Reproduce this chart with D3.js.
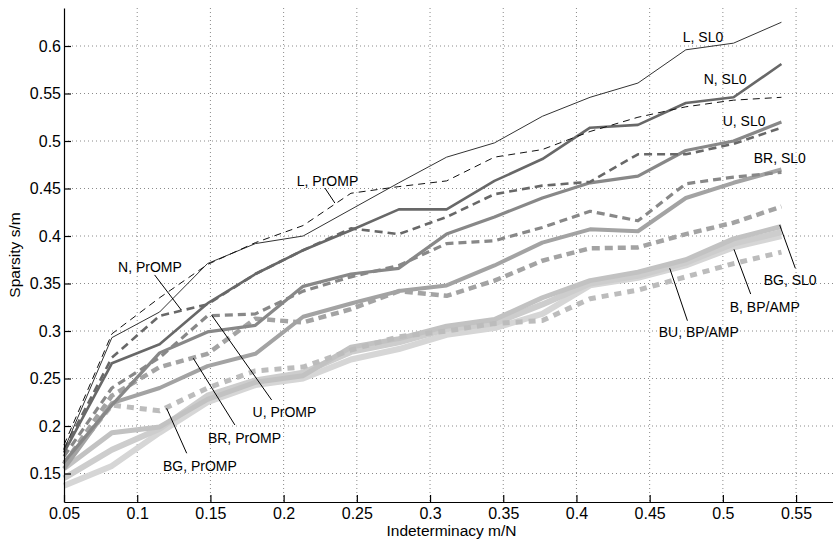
<!DOCTYPE html>
<html>
<head>
<meta charset="utf-8">
<script src="https://cdn.jsdelivr.net/npm/d3@7"></script>
<style>
  body { margin: 0; background: #fff; }
  text { font-family: Arial, "Liberation Sans", Helvetica, sans-serif; fill: #000; }
</style>
</head>
<body>
<svg id="chart" width="833" height="545"></svg>
<script>
// Data: sparsity s/m against indeterminacy m/N, one array per method
var indeterminacy = [0.05, 0.0827, 0.1153, 0.148, 0.1807, 0.2133, 0.246, 0.2787,
                     0.3113, 0.344, 0.3767, 0.4093, 0.442, 0.4747, 0.5073, 0.54];

var xTicks = [0.05, 0.1, 0.15, 0.2, 0.25, 0.3, 0.35, 0.4, 0.45, 0.5, 0.55];
var yTicks = [0.15, 0.2, 0.25, 0.3, 0.35, 0.4, 0.45, 0.5, 0.55, 0.6];

var buBPAMP  = [0.137, 0.158, 0.193, 0.225, 0.243, 0.250, 0.270, 0.281, 0.296, 0.303, 0.318, 0.348, 0.356, 0.369, 0.388, 0.400];
var bBPAMP   = [0.145, 0.175, 0.197, 0.232, 0.248, 0.256, 0.278, 0.288, 0.302, 0.308, 0.328, 0.350, 0.358, 0.372, 0.392, 0.404];
var bgSL0    = [0.155, 0.193, 0.199, 0.228, 0.246, 0.253, 0.283, 0.292, 0.305, 0.312, 0.335, 0.353, 0.362, 0.375, 0.397, 0.410];
var bgPrOMP  = [0.160, 0.222, 0.216, 0.240, 0.258, 0.262, 0.280, 0.294, 0.300, 0.308, 0.311, 0.334, 0.343, 0.357, 0.371, 0.383];
var brSL0    = [0.155, 0.224, 0.240, 0.263, 0.276, 0.315, 0.329, 0.342, 0.348, 0.369, 0.393, 0.407, 0.405, 0.440, 0.456, 0.470];
var brPrOMP  = [0.160, 0.232, 0.262, 0.276, 0.313, 0.309, 0.323, 0.342, 0.337, 0.353, 0.374, 0.387, 0.388, 0.402, 0.414, 0.431];
var uSL0     = [0.162, 0.222, 0.277, 0.299, 0.306, 0.347, 0.360, 0.366, 0.402, 0.420, 0.440, 0.456, 0.463, 0.490, 0.500, 0.520];
var uPrOMP   = [0.168, 0.240, 0.272, 0.316, 0.318, 0.342, 0.357, 0.369, 0.392, 0.395, 0.409, 0.426, 0.416, 0.455, 0.462, 0.467];
var nSL0     = [0.172, 0.266, 0.286, 0.329, 0.360, 0.385, 0.406, 0.428, 0.428, 0.458, 0.481, 0.514, 0.517, 0.540, 0.546, 0.581];
var nPrOMP   = [0.175, 0.272, 0.316, 0.328, 0.360, 0.385, 0.408, 0.402, 0.420, 0.444, 0.453, 0.457, 0.486, 0.486, 0.497, 0.514];
var lSL0     = [0.175, 0.293, 0.320, 0.371, 0.392, 0.400, 0.428, 0.456, 0.483, 0.498, 0.526, 0.546, 0.561, 0.596, 0.603, 0.625];
var lPrOMP   = [0.180, 0.297, 0.335, 0.370, 0.393, 0.411, 0.445, 0.452, 0.458, 0.483, 0.491, 0.510, 0.525, 0.536, 0.543, 0.546];

// line styles, drawn from the lightest/thickest to the darkest/thinnest
var series = [
  { values: buBPAMP, color: "#d6d6d6", width: 6,   dash: null },
  { values: bBPAMP,  color: "#cdcdcd", width: 6,   dash: null },
  { values: bgSL0,   color: "#c2c2c2", width: 5,   dash: null },
  { values: bgPrOMP, color: "#bcbcbc", width: 5,   dash: "7,6" },
  { values: brSL0,   color: "#a3a3a3", width: 4,   dash: null },
  { values: brPrOMP, color: "#a3a3a3", width: 4.5, dash: "8,5" },
  { values: uSL0,    color: "#888888", width: 3.2, dash: null },
  { values: uPrOMP,  color: "#888888", width: 3.2, dash: "8,5" },
  { values: nSL0,    color: "#686868", width: 2.6, dash: null },
  { values: nPrOMP,  color: "#686868", width: 2.6, dash: "8,5" },
  { values: lSL0,    color: "#333333", width: 1,   dash: null },
  { values: lPrOMP,  color: "#111111", width: 1,   dash: "7,5" }
];

// labels: text anchor point, and optional leader line (all in data units)
var labels = [
  { text: "L, SL0",     x: 0.4726, y: 0.6045 },
  { text: "N, SL0",     x: 0.4869, y: 0.5600 },
  { text: "U, SL0",     x: 0.4999, y: 0.5158 },
  { text: "BR, SL0",    x: 0.5211, y: 0.4768 },
  { text: "L, PrOMP",   x: 0.2090, y: 0.4526, lead: [0.2282, 0.4505, 0.2350, 0.4347] },
  { text: "N, PrOMP",   x: 0.0869, y: 0.3624, lead: [0.1119, 0.3590, 0.1301, 0.3221] },
  { text: "U, PrOMP",   x: 0.1788, y: 0.2098, lead: [0.1918, 0.2274, 0.1508, 0.3168] },
  { text: "BR, PrOMP",  x: 0.1483, y: 0.1821, lead: [0.1667, 0.2011, 0.1383, 0.2713] },
  { text: "BG, PrOMP",  x: 0.1176, y: 0.1526, lead: [0.1338, 0.1713, 0.1201, 0.2186] },
  { text: "BU, BP/AMP", x: 0.4562, y: 0.2937, lead: [0.4758, 0.3108, 0.4637, 0.3660] },
  { text: "B, BP/AMP",  x: 0.5047, y: 0.3200, lead: [0.5190, 0.3389, 0.5076, 0.3860] },
  { text: "BG, SL0",    x: 0.5279, y: 0.3481, lead: [0.5495, 0.3660, 0.5388, 0.4116] }
];

var svg = d3.select("#chart");
// plot box (careful: "top" is taken by window.top)
var plotLeft = 64, plotRight = 840, plotTop = 8, plotBottom = 502;

var x = d3.scaleLinear().domain([0.05, 0.58]).range([plotLeft, plotRight]);
var y = d3.scaleLinear().domain([0.12, 0.64]).range([plotBottom, plotTop]);

// dotted grid
svg.append("g").selectAll("line")
  .data(xTicks.slice(1))
  .enter().append("line")
    .attr("x1", function(d) { return x(d); })
    .attr("x2", function(d) { return x(d); })
    .attr("y1", plotTop).attr("y2", plotBottom)
    .style("stroke", "#8a8a8a").style("stroke-dasharray", "1,3");

svg.append("g").selectAll("line")
  .data(yTicks)
  .enter().append("line")
    .attr("x1", plotLeft).attr("x2", plotRight)
    .attr("y1", function(d) { return y(d); })
    .attr("y2", function(d) { return y(d); })
    .style("stroke", "#8a8a8a").style("stroke-dasharray", "1,3");

// the curves
var line = d3.line()
  .x(function(d, i) { return x(indeterminacy[i]); })
  .y(function(d) { return y(d); });

svg.append("g").selectAll("path")
  .data(series)
  .enter().append("path")
    .attr("d", function(s) { return line(s.values); })
    .style("fill", "none")
    .style("stroke", function(s) { return s.color; })
    .style("stroke-width", function(s) { return s.width; })
    .style("stroke-dasharray", function(s) { return s.dash; })
    .style("stroke-linejoin", "round");

// axes, matlab style: ticks point inwards, no box
var xAxis = d3.axisBottom(x).tickValues(xTicks).tickSizeInner(-7).tickSizeOuter(0)
  .tickFormat(d3.format("~g")).tickPadding(6);
var yAxis = d3.axisLeft(y).tickValues(yTicks).tickSizeInner(-7).tickSizeOuter(0)
  .tickFormat(d3.format("~g")).tickPadding(3);

var gx = svg.append("g").attr("transform", "translate(0," + plotBottom + ")").call(xAxis);
var gy = svg.append("g").attr("transform", "translate(" + plotLeft + ",0)").call(yAxis);

[gx, gy].forEach(function(g) {
  g.select(".domain").style("stroke", "#000").style("stroke-width", 1.2);
  g.selectAll(".tick line").style("stroke", "#000").style("stroke-width", 1.2);
  g.selectAll(".tick text").style("font-size", "16px").style("fill", "#000")
    .style("font-family", "Arial, 'Liberation Sans', sans-serif");
});

svg.append("text")
  .attr("x", (plotLeft + 833) / 2 + 3).attr("y", 536)
  .attr("text-anchor", "middle")
  .style("font-size", "15.5px")
  .text("Indeterminacy m/N");

svg.append("text")
  .attr("transform", "translate(20," + (plotTop + plotBottom) / 2 + ") rotate(-90)")
  .attr("text-anchor", "middle")
  .style("font-size", "15.5px")
  .text("Sparsity s/m");

// curve labels and their leader lines
var leads = labels.filter(function(d) { return d.lead; });
svg.append("g").selectAll("line")
  .data(leads)
  .enter().append("line")
    .attr("x1", function(d) { return x(d.lead[0]); })
    .attr("y1", function(d) { return y(d.lead[1]); })
    .attr("x2", function(d) { return x(d.lead[2]); })
    .attr("y2", function(d) { return y(d.lead[3]); })
    .style("stroke", "#000").style("stroke-width", 1);

svg.append("g").selectAll("text")
  .data(labels)
  .enter().append("text")
    .attr("x", function(d) { return x(d.x); })
    .attr("y", function(d) { return y(d.y); })
    .style("font-size", "14px")
    .text(function(d) { return d.text; });
</script>
</body>
</html>
